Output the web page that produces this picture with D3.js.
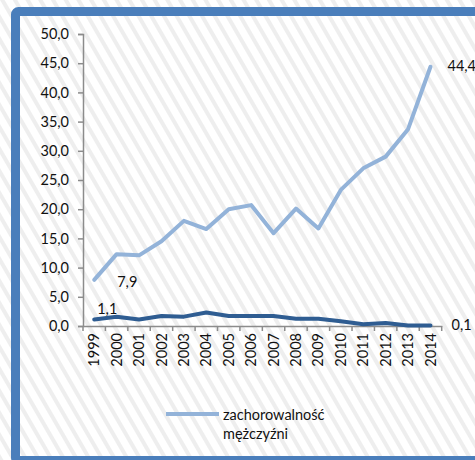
<!DOCTYPE html>
<html>
<head>
<meta charset="utf-8">
<script src="https://cdn.jsdelivr.net/npm/d3@7"></script>
<style>
  body { margin: 0; background: #fff; }
  svg { display: block; }
  text { font-family: Lato, "Open Sans", sans-serif; fill: #111; }
</style>
</head>
<body>
<svg id="chart" width="475" height="460"></svg>
<script>
// data
var years = ["1999", "2000", "2001", "2002", "2003", "2004", "2005", "2006",
             "2007", "2008", "2009", "2010", "2011", "2012", "2013", "2014"];
var men = [7.9, 12.3, 12.1, 14.5, 18.0, 16.6, 20.0, 20.7, 15.9, 20.1, 16.7, 23.3, 27.0, 29.0, 33.7, 44.4];
var women = [1.1, 1.6, 1.1, 1.7, 1.6, 2.3, 1.7, 1.7, 1.7, 1.25, 1.25, 0.8, 0.3, 0.5, 0.1, 0.1];
var yTicks = [0, 5, 10, 15, 20, 25, 30, 35, 40, 45, 50];
var legendLines = ["zachorowalność", "mężczyźni"];

var svg = d3.select("#chart");
var fmt = function (v) { return d3.format(".1f")(v).replace(".", ","); };
var fs = 14.5;

// striped background
var defs = svg.append("defs");
var pat = defs.append("pattern")
    .attr("id", "stripes")
    .attr("patternUnits", "userSpaceOnUse")
    .attr("width", 11).attr("height", 11)
    .attr("patternTransform", "rotate(-30)");
pat.append("rect").attr("width", 11).attr("height", 11).attr("fill", "#ffffff");
pat.append("rect").attr("width", 4).attr("height", 11).attr("fill", "#eeeeee");

svg.append("rect")
    .attr("width", 475).attr("height", 460)
    .attr("fill", "url(#stripes)");

// frame
svg.append("rect")
    .attr("x", 15.5).attr("y", 11.5)
    .attr("width", 520).attr("height", 449)
    .attr("rx", 3)
    .attr("fill", "none")
    .attr("stroke", "#4a7ebb")
    .attr("stroke-width", 9);

var margin = { left: 83, top: 34, right: 441.7, bottom: 326 };

var x = d3.scaleBand().domain(years).range([margin.left, margin.right]);
var y = d3.scaleLinear().domain([0, 50]).range([margin.bottom, margin.top]);

// y axis
var yAxis = svg.append("g")
    .attr("transform", "translate(" + margin.left + ",0)")
    .call(d3.axisLeft(y).tickValues(yTicks).tickFormat(fmt).tickSize(5).tickPadding(9));
yAxis.select(".domain").attr("stroke", "#8c8c8c").attr("stroke-width", 1.5);
yAxis.selectAll(".tick line").attr("stroke", "#8c8c8c").attr("stroke-width", 1.5);
yAxis.selectAll("text").attr("font-size", fs).style("font-family", "Lato, sans-serif").attr("fill", "#111");

// x axis, ticks between categories
var xAxis = svg.append("g")
    .attr("transform", "translate(0," + margin.bottom + ")")
    .call(d3.axisBottom(x).tickSize(0).tickPadding(0));
xAxis.select(".domain").attr("stroke", "#8c8c8c").attr("stroke-width", 1.5);
xAxis.selectAll(".tick text")
    .attr("font-size", fs)
    .style("font-family", "Lato, sans-serif")
    .attr("fill", "#111")
    .attr("text-anchor", "end")
    .attr("dy", "0.35em")
    .attr("transform", "translate(0,7) rotate(-90)");
var bounds = years.map(function (d) { return x(d); }).concat([margin.right]);
xAxis.selectAll(".sep")
    .data(bounds)
    .enter().append("line")
    .attr("class", "sep")
    .attr("x1", function (d) { return d; }).attr("x2", function (d) { return d; })
    .attr("y1", 0).attr("y2", 5)
    .attr("stroke", "#8c8c8c").attr("stroke-width", 1.5);

// lines
var line = function (vals) {
    return d3.line()
        .x(function (d, i) { return x(years[i]) + x.bandwidth() / 2; })
        .y(function (d) { return y(d); })(vals);
};

svg.append("path")
    .attr("d", line(women))
    .attr("fill", "none")
    .attr("stroke", "#2f5d92")
    .attr("stroke-width", 4)
    .attr("stroke-linejoin", "round")
    .attr("stroke-linecap", "round");

svg.append("path")
    .attr("d", line(men))
    .attr("fill", "none")
    .attr("stroke", "#93b3d9")
    .attr("stroke-width", 4)
    .attr("stroke-linejoin", "round")
    .attr("stroke-linecap", "round");

// data labels
var last = years.length - 1;
function label(txt, px, py) {
    svg.append("text")
        .attr("x", px).attr("y", py)
        .attr("dy", "0.35em")
        .attr("font-size", fs)
        .text(txt);
}
var cx = function (i) { return x(years[i]) + x.bandwidth() / 2; };
label(fmt(men[0]), cx(0) + 23, y(men[0]) + 2);
label(fmt(men[last]), cx(last) + 17, y(men[last]) - 1);
label(fmt(women[0]), cx(0) + 3, y(women[0]) - 11);
label(fmt(women[last]), cx(last) + 21, y(women[last]));

// legend
var lg = svg.append("g").attr("transform", "translate(166,414)");
lg.append("line")
    .attr("x1", 0).attr("x2", 53)
    .attr("stroke", "#93b3d9").attr("stroke-width", 4);
lg.selectAll("text")
    .data(legendLines)
    .enter().append("text")
    .attr("x", 57)
    .attr("y", function (d, i) { return 1 + i * 19; })
    .attr("dy", "0.35em")
    .attr("font-size", fs)
    .text(function (d) { return d; });
</script>
</body>
</html>
